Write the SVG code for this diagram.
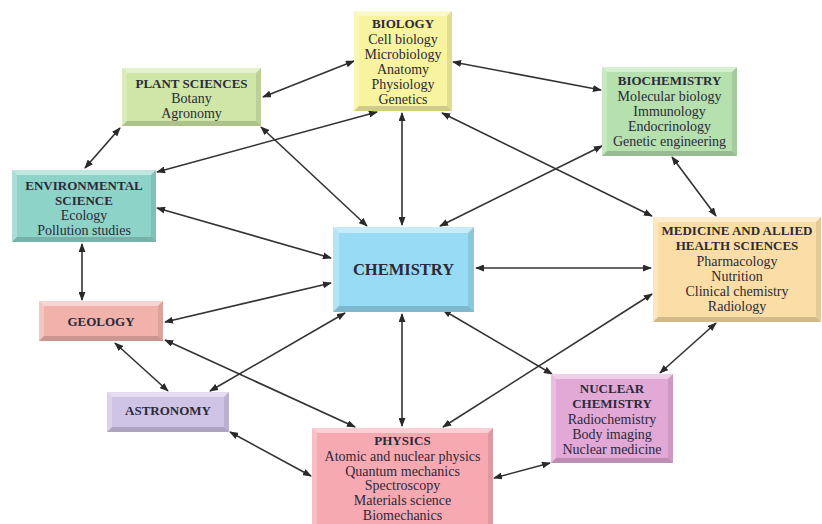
<svg xmlns="http://www.w3.org/2000/svg" width="822" height="524" viewBox="0 0 822 524">
<defs>
<marker id="ah" viewBox="0 0 10 10" refX="9" refY="5" markerWidth="9" markerHeight="7" markerUnits="userSpaceOnUse" orient="auto-start-reverse" preserveAspectRatio="none">
<path d="M0,0 L10,5 L0,10 Z" fill="#2a2a2a"/>
</marker>
</defs>
<style>
.c line{stroke:#333;stroke-width:1.6;marker-start:url(#ah);marker-end:url(#ah)}
.hl{fill:#fff;opacity:.45}
.hl2{fill:#fff;opacity:.25}
.sh{fill:#000;opacity:.16}
.sh2{fill:#000;opacity:.09}
text{font-family:"Liberation Serif","DejaVu Serif",serif;fill:#2b2a3a;text-anchor:middle;font-size:14px}
.t{font-weight:bold;font-size:13px}
.big{font-weight:bold;font-size:16.5px}
</style>
<rect width="822" height="524" fill="#fff"/>
<g class="c">
<line x1="263" y1="97" x2="354" y2="61"/>
<line x1="453" y1="62" x2="601" y2="90"/>
<line x1="120" y1="128" x2="85" y2="168"/>
<line x1="157" y1="172" x2="377" y2="112"/>
<line x1="261" y1="127" x2="367" y2="226"/>
<line x1="402" y1="113" x2="402" y2="225"/>
<line x1="602" y1="146" x2="440" y2="226"/>
<line x1="442" y1="113" x2="652" y2="216"/>
<line x1="672" y1="157" x2="716" y2="216"/>
<line x1="157" y1="208" x2="331" y2="258"/>
<line x1="82" y1="244" x2="82" y2="300"/>
<line x1="165" y1="322" x2="331" y2="283"/>
<line x1="476" y1="268" x2="651" y2="268"/>
<line x1="115" y1="343" x2="168" y2="391"/>
<line x1="165" y1="340" x2="355" y2="427"/>
<line x1="210" y1="391" x2="345" y2="313"/>
<line x1="402" y1="314" x2="402" y2="426"/>
<line x1="443" y1="310" x2="552" y2="374"/>
<line x1="652" y1="294" x2="443" y2="427"/>
<line x1="716" y1="323" x2="660" y2="373"/>
<line x1="230" y1="432" x2="311" y2="476"/>
<line x1="550" y1="463" x2="494" y2="478"/>
</g>
<g id="biology">
<rect x="354" y="11" width="98" height="100" fill="#f8f39e"/>
<polygon class="hl" points="354,11 452,11 447,16 359,16"/>
<polygon class="hl2" points="354,11 359,16 359,106 354,111"/>
<polygon class="sh" points="354,111 452,111 447,106 359,106"/>
<polygon class="sh2" points="452,11 452,111 447,106 447,16"/>
<text x="403" y="28" class="t">BIOLOGY</text>
<text x="403" y="44">Cell biology</text>
<text x="403" y="59">Microbiology</text>
<text x="403" y="74">Anatomy</text>
<text x="403" y="89">Physiology</text>
<text x="403" y="104">Genetics</text>
</g>
<g id="plant">
<rect x="122" y="68" width="139" height="58" fill="#cfe6a6"/>
<polygon class="hl" points="122,68 261,68 256,73 127,73"/>
<polygon class="hl2" points="122,68 127,73 127,121 122,126"/>
<polygon class="sh" points="122,126 261,126 256,121 127,121"/>
<polygon class="sh2" points="261,68 261,126 256,121 256,73"/>
<text x="191.5" y="88" class="t">PLANT SCIENCES</text>
<text x="191.5" y="103">Botany</text>
<text x="191.5" y="118">Agronomy</text>
</g>
<g id="biochemistry">
<rect x="602" y="67" width="135" height="89" fill="#b6e0ae"/>
<polygon class="hl" points="602,67 737,67 732,72 607,72"/>
<polygon class="hl2" points="602,67 607,72 607,151 602,156"/>
<polygon class="sh" points="602,156 737,156 732,151 607,151"/>
<polygon class="sh2" points="737,67 737,156 732,151 732,72"/>
<text x="669.5" y="85" class="t">BIOCHEMISTRY</text>
<text x="669.5" y="101">Molecular biology</text>
<text x="669.5" y="116">Immunology</text>
<text x="669.5" y="131">Endocrinology</text>
<text x="669.5" y="146">Genetic engineering</text>
</g>
<g id="environmental">
<rect x="12" y="170" width="144" height="72" fill="#8ed3c8"/>
<polygon class="hl" points="12,170 156,170 151,175 17,175"/>
<polygon class="hl2" points="12,170 17,175 17,237 12,242"/>
<polygon class="sh" points="12,242 156,242 151,237 17,237"/>
<polygon class="sh2" points="156,170 156,242 151,237 151,175"/>
<text x="84" y="190" class="t">ENVIRONMENTAL</text>
<text x="84" y="205" class="t">SCIENCE</text>
<text x="84" y="220">Ecology</text>
<text x="84" y="235">Pollution studies</text>
</g>
<g id="chemistry">
<rect x="333" y="227" width="141" height="85" fill="#98dbf5"/>
<polygon class="hl" points="333,227 474,227 468,233 339,233"/>
<polygon class="hl2" points="333,227 339,233 339,306 333,312"/>
<polygon class="sh" points="333,312 474,312 468,306 339,306"/>
<polygon class="sh2" points="474,227 474,312 468,306 468,233"/>
<text x="403.5" y="275" class="big">CHEMISTRY</text>
</g>
<g id="medicine">
<rect x="653" y="217" width="168" height="105" fill="#fbdea6"/>
<polygon class="hl" points="653,217 821,217 816,222 658,222"/>
<polygon class="hl2" points="653,217 658,222 658,317 653,322"/>
<polygon class="sh" points="653,322 821,322 816,317 658,317"/>
<polygon class="sh2" points="821,217 821,322 816,317 816,222"/>
<text x="737" y="235" class="t">MEDICINE AND ALLIED</text>
<text x="737" y="250" class="t">HEALTH SCIENCES</text>
<text x="737" y="266">Pharmacology</text>
<text x="737" y="281">Nutrition</text>
<text x="737" y="296">Clinical chemistry</text>
<text x="737" y="311">Radiology</text>
</g>
<g id="geology">
<rect x="39" y="301" width="124" height="40" fill="#f2b2ac"/>
<polygon class="hl" points="39,301 163,301 158,306 44,306"/>
<polygon class="hl2" points="39,301 44,306 44,336 39,341"/>
<polygon class="sh" points="39,341 163,341 158,336 44,336"/>
<polygon class="sh2" points="163,301 163,341 158,336 158,306"/>
<text x="101" y="326" class="t">GEOLOGY</text>
</g>
<g id="astronomy">
<rect x="107" y="392" width="122" height="40" fill="#cfc3e6"/>
<polygon class="hl" points="107,392 229,392 224,397 112,397"/>
<polygon class="hl2" points="107,392 112,397 112,427 107,432"/>
<polygon class="sh" points="107,432 229,432 224,427 112,427"/>
<polygon class="sh2" points="229,392 229,432 224,427 224,397"/>
<text x="168" y="415" class="t">ASTRONOMY</text>
</g>
<g id="nuclear">
<rect x="551" y="374" width="122" height="89" fill="#e2a9d6"/>
<polygon class="hl" points="551,374 673,374 668,379 556,379"/>
<polygon class="hl2" points="551,374 556,379 556,458 551,463"/>
<polygon class="sh" points="551,463 673,463 668,458 556,458"/>
<polygon class="sh2" points="673,374 673,463 668,458 668,379"/>
<text x="612" y="393" class="t">NUCLEAR</text>
<text x="612" y="408" class="t">CHEMISTRY</text>
<text x="612" y="424">Radiochemistry</text>
<text x="612" y="439">Body imaging</text>
<text x="612" y="454">Nuclear medicine</text>
</g>
<g id="physics">
<rect x="312" y="428" width="181" height="96" fill="#f6a9b1"/>
<polygon class="hl" points="312,428 493,428 488,433 317,433"/>
<polygon class="hl2" points="312,428 317,433 317,524 312,524"/>
<polygon class="sh2" points="493,428 493,524 488,524 488,433"/>
<text x="402.5" y="445" class="t">PHYSICS</text>
<text x="402.5" y="461">Atomic and nuclear physics</text>
<text x="402.5" y="476">Quantum mechanics</text>
<text x="402.5" y="490">Spectroscopy</text>
<text x="402.5" y="505">Materials science</text>
<text x="402.5" y="520">Biomechanics</text>
</g>
</svg>
